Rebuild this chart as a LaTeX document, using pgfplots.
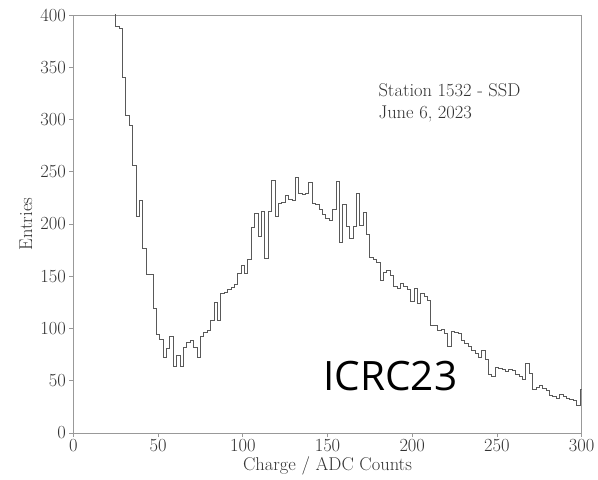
\documentclass[border=0pt]{standalone}
\usepackage{fontspec}
\newfontfamily\icrcfont{Open Sans}
\usepackage{pgfplots}
\pgfplotsset{compat=1.18}
\usepackage{pgfplotstable}
\usetikzlibrary{calc}
\pgfplotstableread{
x y
21 600
23 480
25 389
27 387
29 340
31 304
33 294
35 256
37 207
39 223
41 177
43 152
45 152
47 119
49 94
51 90
53 72
55 81
57 92
59 64
61 74
63 64
65 82
67 87
69 89
71 82
73 72
75 92
77 96
79 98
81 108
83 125
85 108
87 134
89 135
91 137
93 139
95 142
97 153
99 160
101 153
103 166
105 197
107 210
109 188
111 212
113 167
115 212
117 242
119 207
121 220
123 221
125 227
127 224
129 223
131 245
133 229
135 228
137 229
139 240
141 220
143 219
145 214
147 209
149 205
151 203
153 214
155 241
157 182
159 219
161 198
163 186
165 198
167 229
169 199
171 211
173 190
175 168
177 166
179 163
181 146
183 154
185 156
187 151
189 140
191 138
193 143
195 140
197 137
199 126
201 138
203 124
205 134
207 131
209 127
211 103
213 103
215 98
217 99
219 95
221 83
223 97
225 96
227 95
229 89
231 86
233 83
235 79
237 76
239 72
241 79
243 70
245 56
247 54
249 63
251 62
253 61
255 59
257 61
259 60
261 56
263 54
265 51
267 67
269 57
271 42
273 44
275 46
277 43
279 41
281 36
283 35
285 33
287 37
289 35
291 33
293 32
295 31
297 26
299 42
301 42
}\histdata
\begin{document}
\fontsize{18.5}{22}\selectfont
\begin{tikzpicture}
\begin{axis}[
  name=ax,
  scale only axis, width=508.4pt, height=418pt,
  xmin=0, xmax=300, ymin=0, ymax=400,
  xtick={0,50,...,300}, ytick={0,50,...,400},
  /pgf/number format/assume math mode=true,
  tick align=outside, tick pos=left,
  major tick length=4pt,
  axis line style={black!40, line width=0.9pt},
  every tick/.style={black!40, line width=0.9pt},
  tick label style={black!80},
  xticklabel style={yshift=4pt},
  yticklabel style={xshift=3pt},
  xlabel={Charge / ADC Counts}, ylabel={Entries},
  xlabel style={at={(axis description cs:0.5,-0.079)}, anchor=center, black!80},
  ylabel style={at={(axis description cs:-0.093,0.5)}, anchor=center, black!80},
]
\addplot[const plot mark left, black!65, line width=0.8pt] table[x=x, y=y] {\histdata};
\node[anchor=base west, inner sep=0, black!80] at (axis cs:180,322) {Station 1532 - SSD};
\node[anchor=base west, inner sep=0, black!80] at (axis cs:180,301) {June 6, 2023};
\node[anchor=base west, inner sep=0, black] at (axis cs:147.5,40.2) {\fontsize{40.5}{44}\icrcfont ICRC23};
\end{axis}
\pgfresetboundingbox
\path ($(ax.south west)+(-73.3pt,-46pt)$) rectangle ($(ax.north east)+(16.3pt,15pt)$);
\end{tikzpicture}
\end{document}
